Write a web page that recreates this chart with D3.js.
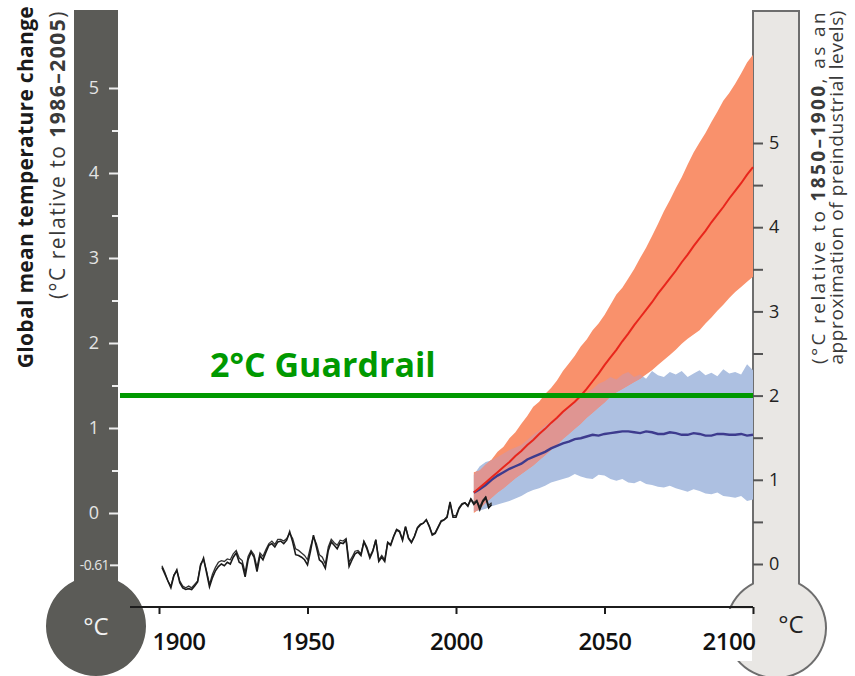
<!DOCTYPE html>
<html><head><meta charset="utf-8">
<script src="https://cdn.jsdelivr.net/npm/d3@7"></script>
<style>
body{margin:0;background:#fff;}
svg{display:block;font-family:"Open Sans","Noto Sans",sans-serif;}
</style>
</head><body>
<svg id="c" width="855" height="676"></svg>
<script>
// ---------- DATA ----------
const obsStartYear = 1901;
const obsA = [
 -0.64,-0.72,-0.80,-0.88,-0.74,-0.67,-0.82,-0.88,-0.90,-0.89,
 -0.90,-0.86,-0.81,-0.62,-0.53,-0.70,-0.87,-0.76,-0.68,-0.63,
 -0.60,-0.62,-0.58,-0.60,-0.52,-0.47,-0.58,-0.60,-0.75,-0.55,
 -0.46,-0.52,-0.69,-0.50,-0.55,-0.46,-0.38,-0.36,-0.40,-0.34,
 -0.33,-0.36,-0.32,-0.22,-0.34,-0.49,-0.50,-0.52,-0.55,-0.61,
 -0.45,-0.26,-0.40,-0.55,-0.58,-0.65,-0.44,-0.34,-0.38,-0.42,
 -0.35,-0.36,-0.32,-0.63,-0.55,-0.48,-0.46,-0.50,-0.34,-0.42,
 -0.53,-0.45,-0.32,-0.57,-0.52,-0.57,-0.35,-0.38,-0.28,-0.20,
 -0.22,-0.32,-0.16,-0.30,-0.35,-0.28,-0.18,-0.14,-0.12,-0.08,
 -0.16,-0.26,-0.24,-0.17,-0.10,-0.08,-0.05,0.13,-0.05,-0.05,
 0.05,0.10,0.12,0.08,0.16,0.10,0.14,0.04,0.13,0.18,
 0.06,0.10];
const obsB = [
 -0.62,-0.70,-0.80,-0.86,-0.73,-0.68,-0.80,-0.86,-0.88,-0.86,
 -0.88,-0.84,-0.80,-0.60,-0.55,-0.68,-0.84,-0.72,-0.64,-0.58,
 -0.56,-0.57,-0.54,-0.55,-0.48,-0.44,-0.53,-0.56,-0.70,-0.51,
 -0.44,-0.49,-0.64,-0.47,-0.51,-0.43,-0.36,-0.33,-0.37,-0.31,
 -0.31,-0.33,-0.30,-0.24,-0.30,-0.42,-0.44,-0.47,-0.50,-0.55,
 -0.40,-0.28,-0.36,-0.49,-0.52,-0.60,-0.40,-0.31,-0.35,-0.38,
 -0.32,-0.33,-0.30,-0.58,-0.52,-0.45,-0.44,-0.48,-0.33,-0.40,
 -0.51,-0.44,-0.31,-0.55,-0.50,-0.55,-0.34,-0.37,-0.27,-0.19,
 -0.21,-0.31,-0.16,-0.29,-0.34,-0.27,-0.17,-0.13,-0.12,-0.08,
 -0.15,-0.25,-0.23,-0.16,-0.09,-0.08,-0.04,0.12,-0.03,-0.03,
 0.06,0.11,0.12,0.09,0.17,0.12,0.15,0.07,0.15,0.19,
 0.09,0.12];

const projYears = [
 2006,2008,2010,2012,2014,2016,2018,2020,
 2022,2024,2026,2028,2030,2032,2034,2036,
 2038,2040,2042,2044,2046,2048,2050,2052,
 2054,2056,2058,2060,2062,2064,2066,2068,
 2070,2072,2074,2076,2078,2080,2082,2084,
 2086,2088,2090,2092,2094,2096,2098,2100];
const rcp85Mean = [
 0.24,0.30,0.36,0.42,0.48,0.54,0.60,0.67,
 0.73,0.80,0.86,0.93,0.99,1.06,1.12,1.19,
 1.25,1.31,1.38,1.46,1.55,1.64,1.74,1.83,
 1.92,2.02,2.11,2.21,2.30,2.39,2.48,2.58,
 2.67,2.76,2.85,2.95,3.04,3.14,3.23,3.32,
 3.42,3.51,3.60,3.70,3.79,3.88,3.98,4.07];
const rcp85Hi = [
 0.48,0.50,0.57,0.63,0.72,0.78,0.88,0.95,
 1.05,1.14,1.25,1.31,1.40,1.47,1.56,1.67,
 1.76,1.85,1.96,2.04,2.15,2.23,2.33,2.45,
 2.57,2.65,2.76,2.87,3.00,3.12,3.26,3.40,
 3.55,3.68,3.82,3.95,4.10,4.24,4.36,4.47,
 4.60,4.72,4.85,4.94,5.05,5.17,5.30,5.39];
const rcp85Lo = [
 0.00,0.05,0.12,0.18,0.24,0.29,0.35,0.41,
 0.46,0.51,0.56,0.62,0.68,0.74,0.80,0.87,
 0.93,0.99,1.05,1.12,1.18,1.24,1.30,1.37,
 1.42,1.46,1.50,1.54,1.58,1.63,1.68,1.74,
 1.80,1.86,1.92,1.99,2.05,2.10,2.15,2.23,
 2.30,2.38,2.45,2.53,2.60,2.66,2.72,2.78];
const rcp26Mean = [
 0.24,0.28,0.33,0.39,0.44,0.48,0.52,0.55,
 0.58,0.63,0.66,0.69,0.72,0.76,0.79,0.82,
 0.84,0.87,0.88,0.90,0.92,0.91,0.93,0.94,
 0.95,0.96,0.96,0.95,0.94,0.96,0.95,0.93,
 0.93,0.95,0.94,0.92,0.92,0.94,0.93,0.91,
 0.91,0.93,0.93,0.92,0.92,0.93,0.91,0.92];
const rcp26Hi = [
 0.45,0.55,0.60,0.62,0.66,0.70,0.74,0.77,
 0.80,0.86,0.92,0.97,1.03,1.08,1.13,1.18,
 1.24,1.30,1.35,1.41,1.46,1.52,1.55,1.60,
 1.57,1.63,1.66,1.60,1.63,1.58,1.67,1.62,
 1.60,1.66,1.63,1.67,1.60,1.64,1.68,1.62,
 1.65,1.61,1.69,1.64,1.66,1.63,1.75,1.68];
const rcp26Lo = [
 0.02,0.03,0.05,0.08,0.10,0.12,0.14,0.17,
 0.20,0.24,0.27,0.29,0.32,0.36,0.38,0.40,
 0.42,0.46,0.43,0.41,0.40,0.45,0.44,0.40,
 0.38,0.40,0.36,0.35,0.38,0.34,0.33,0.31,
 0.30,0.32,0.29,0.27,0.25,0.28,0.26,0.23,
 0.22,0.24,0.20,0.19,0.18,0.20,0.14,0.16];

const xTickYears = [1900,1950,2000,2050,2100];
const leftTicks = [0,1,2,3,4,5];
const leftMinor = [0.5,1.5,2.5,3.5,4.5];
const leftBase = -0.61;
const rightTicks = [0,1,2,3,4,5];
const rightMinor = [0.5,1.5,2.5,3.5,4.5];
const guardrailRight = 2;
const guardrailLabel = "2°C Guardrail";

// ---------- SETUP ----------
const svg = d3.select("#c");
const x = d3.scaleLinear().domain([1900,2100]).range([159,753]);
const yL = d3.scaleLinear().domain([0,5]).range([513,88]);
const yR = d3.scaleLinear().domain([0,5]).range([564,143]);

svg.append("rect").attr("width",855).attr("height",676).attr("fill","#fff");

// left thermometer
(function(){
  const cx=96, cy=626, r=50, hw=22, top=10;
  const sy = cy - Math.sqrt(r*r-hw*hw);
  svg.append("path")
    .attr("d",`M${cx-hw},${top} L${cx-hw},${sy} A${r},${r} 0 1 0 ${cx+hw},${sy} L${cx+hw},${top} Z`)
    .attr("fill","#5b5b57");
  svg.append("text").attr("x",cx).attr("y",cy+9).attr("text-anchor","middle")
    .attr("fill","#f2f2f2").attr("font-size",24).text("°C");
})();
// right thermometer
(function(){
  const cx=776, cy=628, r=50, hw=23, top=11;
  const sy = cy - Math.sqrt(r*r-hw*hw);
  svg.append("path")
    .attr("d",`M${cx-hw},${top} L${cx-hw},${sy} A${r},${r} 0 1 0 ${cx+hw},${sy} L${cx+hw},${top} Z`)
    .attr("fill","#e9e7e4").attr("stroke","#6e6e6e").attr("stroke-width",2);
  svg.append("text").attr("x",791).attr("y",633).attr("text-anchor","middle")
    .attr("fill","#222").attr("font-size",24).text("°C");
})();
// white cover below axis near 2100
svg.append("rect").attr("x",690).attr("y",609).attr("width",62).attr("height",52).attr("fill","#fff");

// ---------- BANDS ----------
const proj = projYears.map((yr,i)=>({yr, m85:rcp85Mean[i], h85:rcp85Hi[i], l85:rcp85Lo[i], m26:rcp26Mean[i], h26:rcp26Hi[i], l26:rcp26Lo[i]}));
const area85 = d3.area().x(d=>x(d.yr)).y0(d=>yL(d.l85)).y1(d=>yL(d.h85));
const area26 = d3.area().x(d=>x(d.yr)).y0(d=>yL(d.l26)).y1(d=>yL(d.h26));
svg.append("clipPath").attr("id","clip26").append("path").attr("d",area26(proj));
svg.append("path").attr("d",area26(proj)).attr("fill","#adc0e1");
svg.append("path").attr("d",area85(proj)).attr("fill","#f9916c");
svg.append("path").attr("d",area85(proj)).attr("fill","#df9592").attr("clip-path","url(#clip26)");

const line26 = d3.line().x(d=>x(d.yr)).y(d=>yL(d.m26));
const line85 = d3.line().x(d=>x(d.yr)).y(d=>yL(d.m85));
svg.append("path").attr("d",line26(proj)).attr("fill","none").attr("stroke","#3d3b8e").attr("stroke-width",2.4);
svg.append("path").attr("d",line85(proj)).attr("fill","none").attr("stroke","#e8261c").attr("stroke-width",2);

// observed
const obsLine = d3.line().x((d,i)=>x(obsStartYear+i)).y(d=>yL(d));
svg.append("path").attr("d",obsLine(obsB)).attr("fill","none").attr("stroke","#333").attr("stroke-width",1.3);
svg.append("path").attr("d",obsLine(obsA)).attr("fill","none").attr("stroke","#1a1a1a").attr("stroke-width",1.6);

// ---------- X AXIS ----------
const xAxis = svg.append("g").attr("transform","translate(0,607)")
  .call(d3.axisBottom(x).tickValues(xTickYears).tickSize(7).tickSizeOuter(0).tickFormat(d3.format("d")));
xAxis.select(".domain").attr("d","M130,0H753").attr("stroke","#1c1c1c").attr("stroke-width",2);
xAxis.selectAll(".tick line").attr("stroke","#1c1c1c").attr("stroke-width",2);
xAxis.selectAll(".tick text").attr("y",43).attr("dy",0).attr("font-size",24).attr("font-weight",600)
  .attr("fill","#111").attr("font-family","Open Sans").attr("letter-spacing",-0.5)
  .attr("text-anchor",d=>d===1900?"start":d===2100?"end":"middle")
  .attr("x",d=>d===1900?-7:d===2100?2:0);

// ---------- LEFT AXIS ----------
const lAx = svg.append("g").attr("transform","translate(118,0)")
  .call(d3.axisLeft(yL).tickValues(leftTicks).tickSize(9).tickFormat(d3.format("d")));
lAx.select(".domain").remove();
lAx.selectAll(".tick line").attr("stroke","#eeeeee").attr("stroke-width",2);
lAx.selectAll(".tick text").attr("x",-24).attr("text-anchor","middle").attr("font-size",18)
  .attr("fill","#e4e4e4").attr("font-family","Open Sans");
const lMin = svg.append("g").attr("transform","translate(118,0)")
  .call(d3.axisLeft(yL).tickValues(leftMinor).tickSize(6).tickFormat(""));
lMin.select(".domain").remove();
lMin.selectAll(".tick line").attr("stroke","#eeeeee").attr("stroke-width",2);
const lBase = svg.append("g").attr("transform","translate(118,0)")
  .call(d3.axisLeft(yL).tickValues([leftBase]).tickSize(8).tickPadding(1).tickFormat(d=>d.toFixed(2)));
lBase.select(".domain").remove();
lBase.selectAll(".tick line").attr("stroke","#eeeeee").attr("stroke-width",2);
lBase.selectAll(".tick text").attr("font-size",14).attr("letter-spacing",-0.6).attr("fill","#e4e4e4").attr("font-family","Open Sans");

// ---------- RIGHT AXIS ----------
const rAx = svg.append("g").attr("transform","translate(753,0)")
  .call(d3.axisRight(yR).tickValues(rightTicks).tickSize(10).tickPadding(6).tickFormat(d3.format("d")));
rAx.select(".domain").remove();
rAx.selectAll(".tick line").attr("stroke","#555").attr("stroke-width",2);
rAx.selectAll(".tick text").attr("font-size",18).attr("fill","#222").attr("font-family","Open Sans");
const rMin = svg.append("g").attr("transform","translate(753,0)")
  .call(d3.axisRight(yR).tickValues(rightMinor).tickSize(10).tickFormat(""));
rMin.select(".domain").remove();
rMin.selectAll(".tick line").attr("stroke","#555").attr("stroke-width",2);

// ---------- GUARDRAIL ----------
svg.append("line").attr("x1",120).attr("x2",753).attr("y1",yR(guardrailRight)).attr("y2",yR(guardrailRight))
  .attr("stroke","#009900").attr("stroke-width",5);
svg.append("text").attr("x",210).attr("y",377).attr("fill","#009900").attr("font-size",34)
  .attr("font-weight",700).attr("font-family","Open Sans").text(guardrailLabel);

// ---------- TITLES ----------
svg.append("text").attr("transform","translate(33,6) rotate(-90)").attr("text-anchor","end")
  .attr("font-size",21).attr("font-weight",700).attr("letter-spacing",0.3).attr("fill","#1a1a1a")
  .text("Global mean temperature change");
const lt2 = svg.append("text").attr("transform","translate(65,10) rotate(-90)").attr("text-anchor","end")
  .attr("font-size",21).attr("letter-spacing",1.5).attr("fill","#3a3a3a");
lt2.append("tspan").text("(°C relative to ");
lt2.append("tspan").attr("font-weight",700).text("1986–2005");
lt2.append("tspan").text(")");

const rt1 = svg.append("text").attr("transform","translate(825,10) rotate(-90)").attr("text-anchor","end")
  .attr("font-size",19).attr("fill","#3a3a3a").attr("letter-spacing",2.4);
rt1.append("tspan").text("(°C relative to ");
rt1.append("tspan").attr("font-weight",700).text("1850–1900");
rt1.append("tspan").text(", as an");
svg.append("text").attr("transform","translate(843,10) rotate(-90)").attr("text-anchor","end")
  .attr("font-size",19).attr("fill","#3a3a3a").attr("letter-spacing",0.6).text("approximation of preindustrial levels)");
</script>
</body></html>
